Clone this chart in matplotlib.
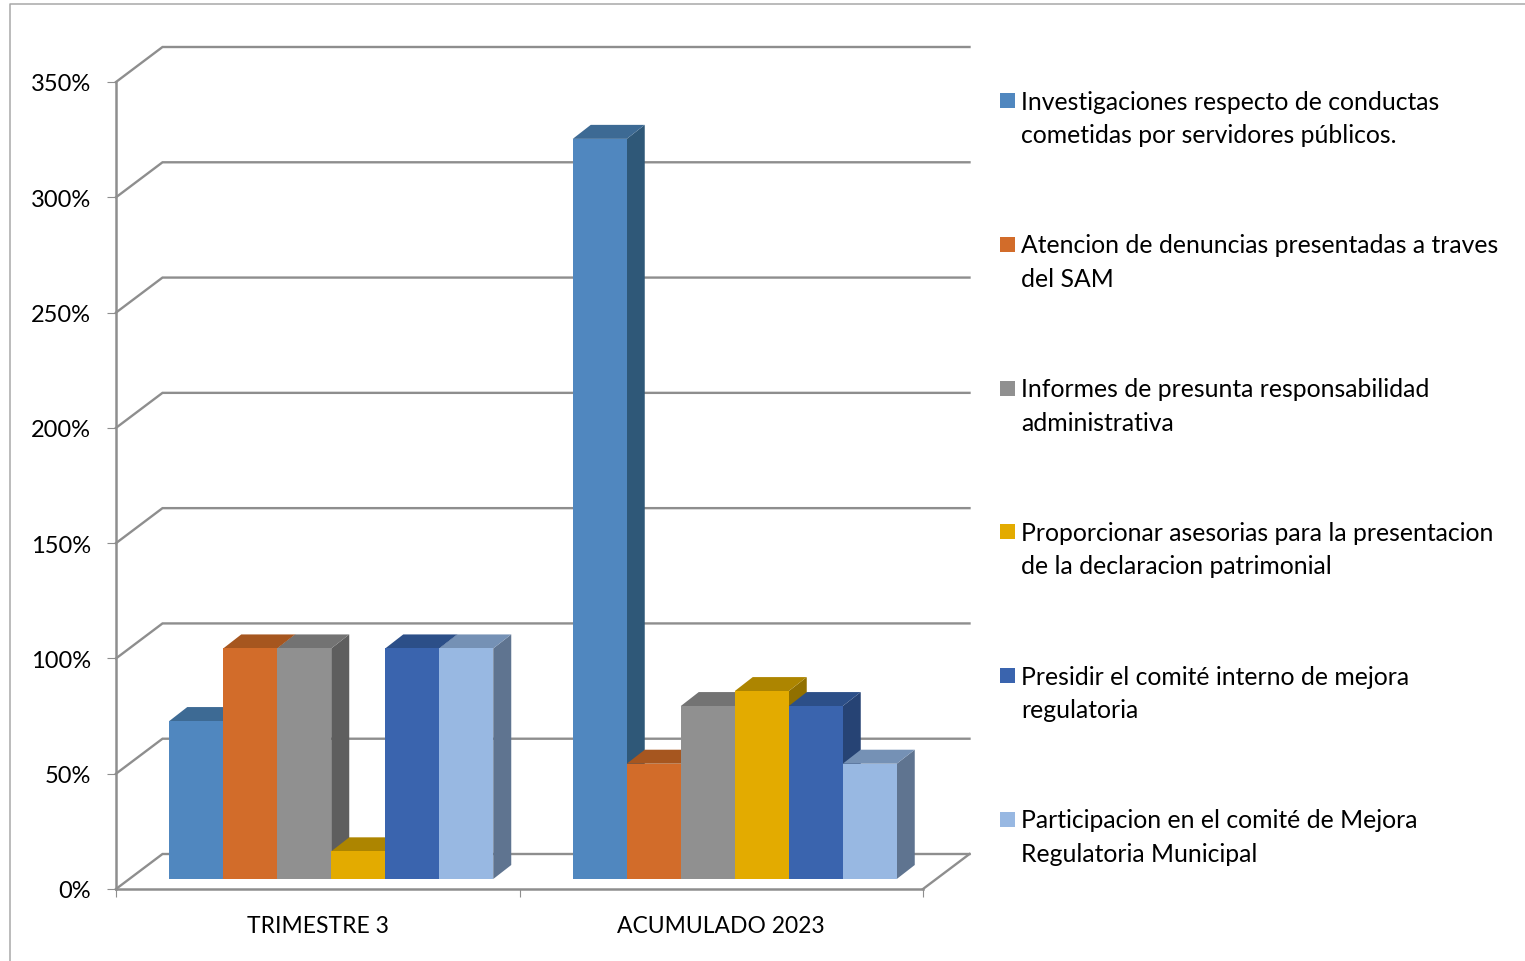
import matplotlib
matplotlib.use("Agg")
import matplotlib.pyplot as plt
from matplotlib.patches import Polygon, Rectangle
from matplotlib.lines import Line2D

plt.rcParams['font.family'] = ['Lato', 'DejaVu Sans']

categories = ['TRIMESTRE 3', 'ACUMULADO 2023']
series_names = [
    'Investigaciones respecto de conductas\ncometidas por servidores públicos.',
    'Atencion de denuncias presentadas a traves\ndel SAM',
    'Informes de presunta responsabilidad\nadministrativa',
    'Proporcionar asesorias para la presentacion\nde la declaracion patrimonial',
    'Presidir el comité interno de mejora\nregulatoria',
    'Participacion en el comité de Mejora\nRegulatoria Municipal',
]
investigaciones = [68.5, 321]
denuncias = [100, 50]
informes = [100, 75]
asesorias = [12, 81.5]
comite_interno = [100, 75]
comite_mejora = [100, 50]
series_values = [investigaciones, denuncias, informes, asesorias, comite_interno, comite_mejora]
y_ticks = [0, 50, 100, 150, 200, 250, 300, 350]

front_colors = ['#5087BF', '#D26C2A', '#909090', '#E3AB00', '#3A64AE', '#98B8E2']
top_colors = ['#3D6A94', '#A6561F', '#737373', '#AD8500', '#2C4F88', '#7591B5']
side_colors = ['#2F5878', '#8C4A1A', '#5E5E5E', '#917000', '#264374', '#5F7490']
GRID = '#8E8E8E'
BORDER = '#A8A8A8'

W, H = 1525, 962
fig = plt.figure(figsize=(W / 100, H / 100), dpi=100, facecolor='white')

# Front plane of the plot in pixels
L, R, T, B = 116, 923, 83, 890
ax = fig.add_axes([L / W, 1 - B / H, (R - L) / W, (B - T) / H])
ax.set_xlim(-0.5, 1.5)
ax.set_ylim(0, 350)
ux = (R - L) / 2      # px per category
uy = (B - T) / 350    # px per percent


def off(px_x, px_y):
    """Depth offset in pixels turned into data units."""
    return px_x / ux, px_y / uy


def poly(pts, color, z):
    ax.add_patch(Polygon(pts, closed=True, facecolor=color, edgecolor='none',
                         clip_on=False, zorder=z))


# Walls and floor
dx, dy = off(46.5, 35)
x0, x1 = ax.get_xlim()
for v in y_ticks:
    ax.plot([x0, x0 + dx, x1 + dx], [v, v + dy, v + dy], color=GRID, lw=1.7,
            clip_on=False, zorder=1, solid_joinstyle='miter')
ax.plot([x1, x1 + dx], [0, dy], color=GRID, lw=1.7, clip_on=False, zorder=1)

# Bars
bar_w = 54 / ux
n = len(series_values)
base_dx, base_dy = off(13.5, 10)
dep_x, dep_y = off(18, 14)
z = 3
for c in range(len(categories)):
    start = c - n * bar_w / 2 + base_dx
    for s, vals in enumerate(series_values):
        v = vals[c]
        xa = start + s * bar_w
        xb = xa + bar_w
        yb = base_dy
        yt = base_dy + v
        poly([(xb, yb), (xb + dep_x, yb + dep_y), (xb + dep_x, yt + dep_y), (xb, yt)], side_colors[s], z)
        poly([(xa, yt), (xb, yt), (xb + dep_x, yt + dep_y), (xa + dep_x, yt + dep_y)], top_colors[s], z)
        poly([(xa, yb), (xb, yb), (xb, yt), (xa, yt)], front_colors[s], z)
        z += 1

# Axes
for sp in ('top', 'right'):
    ax.spines[sp].set_visible(False)
for sp in ('left', 'bottom'):
    ax.spines[sp].set_color(GRID)
    ax.spines[sp].set_linewidth(1.8)
ax.set_yticks(y_ticks)
ax.set_yticklabels([f'{v}%' for v in y_ticks])
ax.set_xticks([0, 1])
ax.set_xticklabels(categories)
ax.set_xticks([-0.5, 0.5, 1.5], minor=True)
ax.tick_params(axis='y', length=6.5, width=0.8, color=GRID, pad=11.5, labelsize=17, labelcolor='black')
ax.tick_params(axis='x', which='major', length=0, pad=18.5, labelsize=16.5, labelcolor='black')
ax.tick_params(axis='x', which='minor', length=6, width=0.8, color=GRID)

# Legend
pitch = 143.8
for i, (name, col) in enumerate(zip(series_names, front_colors)):
    yc = 101.5 + i * pitch
    fig.add_artist(Rectangle((1000 / W, 1 - (yc + 7.5) / H), 15 / W, 15 / H,
                             facecolor=col, edgecolor='none', transform=fig.transFigure))
    fig.text(1021 / W, 1 - (yc - 11) / H, name, ha='left', va='top', fontsize=17.8,
             color='black', linespacing=1.55)

# Outer chart border (cropped on the right and at the bottom)
fig.add_artist(Line2D([9.5 / W, 9.5 / W, 1], [0, 1 - 4.5 / H, 1 - 4.5 / H],
                      color=BORDER, lw=1.1, transform=fig.transFigure))

fig.savefig('out.png', dpi=100, facecolor='white')
